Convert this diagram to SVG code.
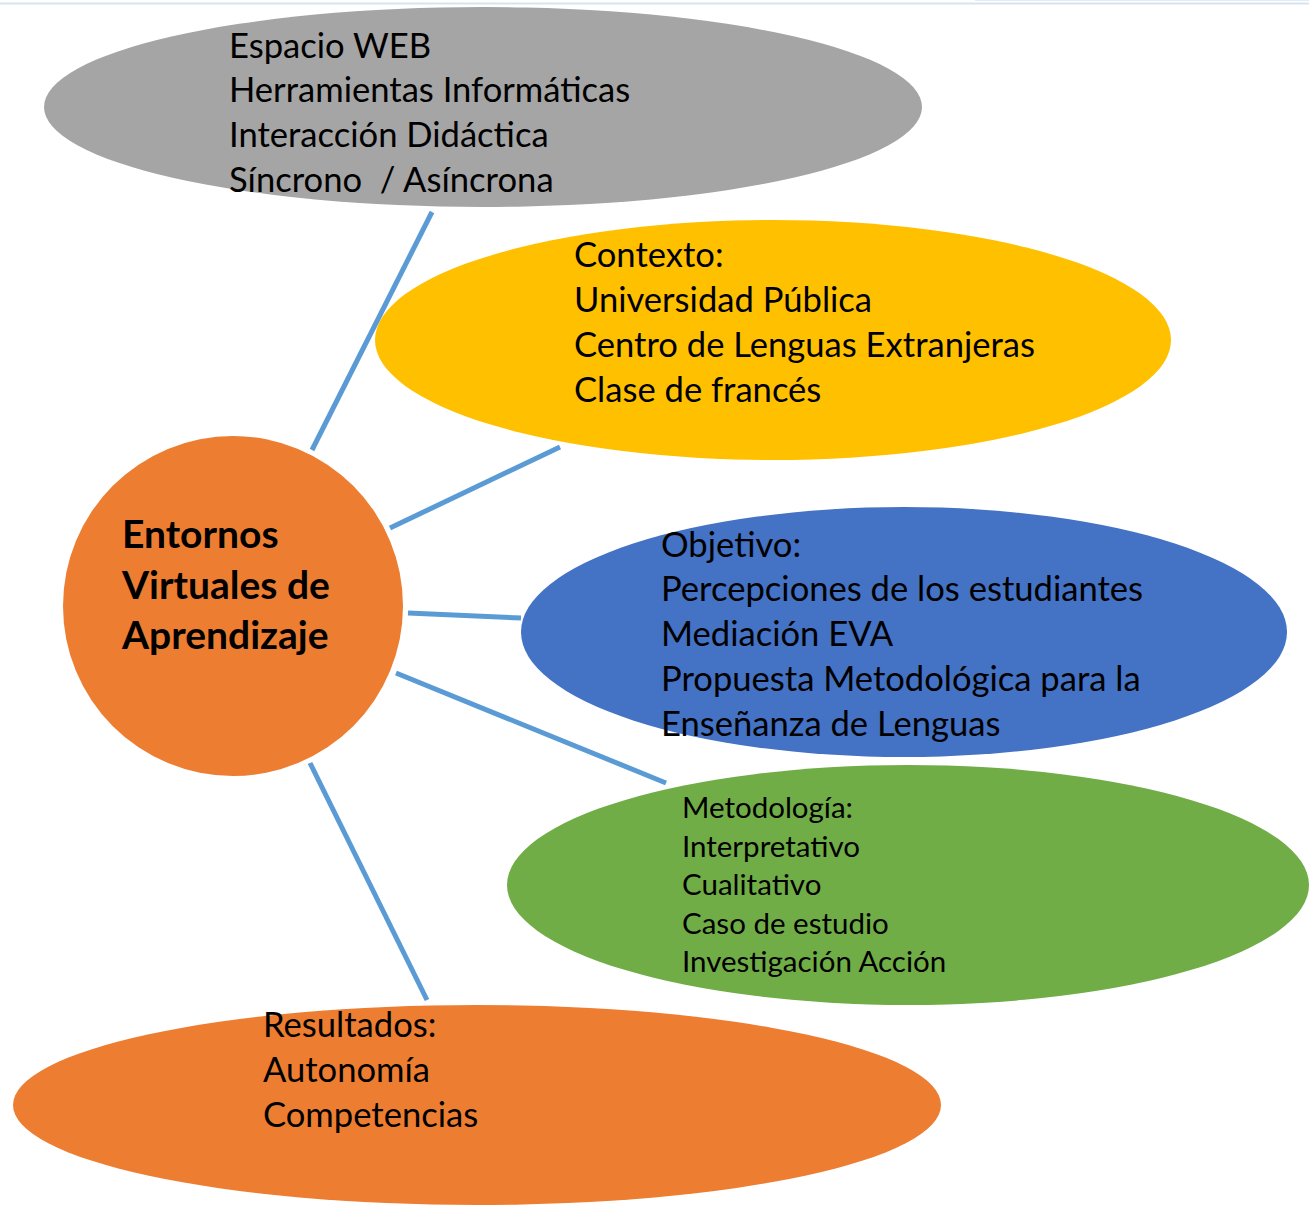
<svg xmlns="http://www.w3.org/2000/svg" width="1309" height="1205" viewBox="0 0 1309 1205">
<style>
.t{font-family:Lato,"Open Sans","Noto Sans",sans-serif;font-size:34.6px;fill:#000}
.s{font-family:Lato,"Open Sans","Noto Sans",sans-serif;font-size:29.5px;fill:#000}
.b{font-family:Lato,"Open Sans","Noto Sans",sans-serif;font-size:39px;font-weight:bold;fill:#000}
.c{stroke:#5b9bd5;stroke-width:5;fill:none}
</style>
<rect width="1309" height="1205" fill="#fff"/>
<line x1="0" y1="3.5" x2="1309" y2="3.5" stroke="#d6e4f0" stroke-width="2"/>
<line x1="975" y1="0.5" x2="1309" y2="0.5" stroke="#e2ebf3" stroke-width="1"/>
<g id="connectors">
<line class="c" x1="312" y1="450" x2="432" y2="212"/>
<line class="c" x1="390" y1="528" x2="560" y2="447"/>
<line class="c" x1="408" y1="613" x2="521" y2="618"/>
<line class="c" x1="396" y1="673" x2="666" y2="783"/>
<line class="c" x1="310" y1="763" x2="427" y2="1000"/>
</g>
<g id="web">
<ellipse cx="483" cy="107" rx="439" ry="100" fill="#a5a5a5"/>
<text class="t" x="229" y="58">Espacio WEB</text>
<text class="t" x="229" y="102">Herramientas Informáticas</text>
<text class="t" x="229" y="147">Interacción Didáctica</text>
<text class="t" x="229" y="192" xml:space="preserve">Síncrono  / Asíncrona</text>
</g>
<g id="contexto">
<ellipse cx="773" cy="340" rx="398" ry="120" fill="#ffc000"/>
<text class="t" x="574" y="267">Contexto:</text>
<text class="t" x="574" y="312">Universidad Pública</text>
<text class="t" x="574" y="357">Centro de Lenguas Extranjeras</text>
<text class="t" x="574" y="402">Clase de francés</text>
</g>
<g id="objetivo">
<ellipse cx="904" cy="632" rx="383" ry="125" fill="#4472c4"/>
<text class="t" x="661" y="557">Objetivo:</text>
<text class="t" x="661" y="601">Percepciones de los estudiantes</text>
<text class="t" x="661" y="646">Mediación EVA</text>
<text class="t" x="661" y="691">Propuesta Metodológica para la</text>
<text class="t" x="661" y="736">Enseñanza de Lenguas</text>
</g>
<g id="metodologia">
<ellipse cx="908" cy="885" rx="401" ry="120" fill="#70ad47"/>
<text class="s" x="682" y="818">Metodología:</text>
<text class="s" x="682" y="857">Interpretativo</text>
<text class="s" x="682" y="895">Cualitativo</text>
<text class="s" x="682" y="934">Caso de estudio</text>
<text class="s" x="682" y="972">Investigación Acción</text>
</g>
<g id="resultados">
<ellipse cx="477" cy="1105" rx="464" ry="100" fill="#ed7d31"/>
<text class="t" x="263" y="1037">Resultados:</text>
<text class="t" x="263" y="1082">Autonomía</text>
<text class="t" x="263" y="1127">Competencias</text>
</g>
<g id="eva">
<circle cx="233" cy="606" r="170" fill="#ed7d31"/>
<text class="b" x="122" y="548">Entornos</text>
<text class="b" x="122" y="599">Virtuales de</text>
<text class="b" x="122" y="649">Aprendizaje</text>
</g>
</svg>
